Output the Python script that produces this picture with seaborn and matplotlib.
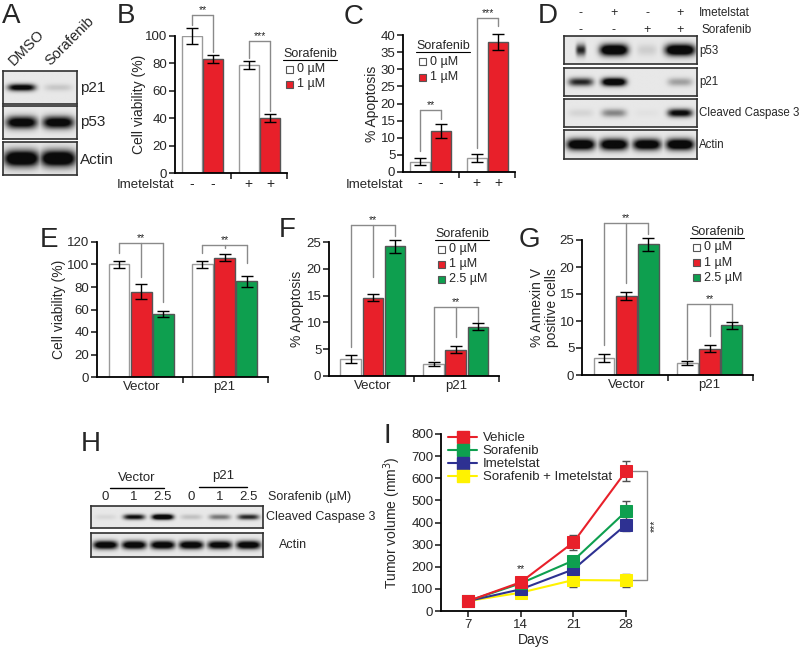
import numpy as np
import pandas as pd
import matplotlib
matplotlib.use('Agg')
import matplotlib.pyplot as plt
from matplotlib.patches import Rectangle
from matplotlib.lines import Line2D
import seaborn as sns

sns.set_style('ticks')
plt.rcParams['font.family'] = ['Liberation Sans', 'DejaVu Sans']
plt.rcParams['axes.linewidth'] = 1.3
plt.rcParams['axes.edgecolor'] = 'black'

# ── data ────────────────────────────────────────────
# A: western blot, DMSO vs Sorafenib (band darkness 0-1)
a_lanes = ['DMSO', 'Sorafenib']
a_p21 = [0.8, 0.1]
a_p53 = [0.85, 0.85]
a_actin = [1.0, 1.0]

# B / C: Imetelstat -/+ x Sorafenib 0 / 1 uM
imet_groups = ['-', '+']
sora_2 = ['0 µM', '1 µM']
b_mean = [100, 83, 79, 40]
b_err = [6, 3, 3, 3]
c_mean = [3, 12, 4, 38]
c_err = [1.0, 2.0, 1.2, 2.3]

# D: blot, lanes Imetelstat -,+,-,+ / Sorafenib -,-,+,+
d_imet = ['-', '+', '-', '+']
d_sora = ['-', '-', '+', '+']
d_p53 = [0.6, 1.0, 0.08, 1.0]
d_p21 = [0.6, 0.95, 0.0, 0.22]
d_cc3 = [0.06, 0.3, 0.02, 0.75]
d_actin = [0.95, 0.95, 0.9, 0.95]

# E / F / G: Vector vs p21 x Sorafenib 0 / 1 / 2.5 uM
cell_groups = ['Vector', 'p21']
sora_3 = ['0 µM', '1 µM', '2.5 µM']
e_mean = [100, 76, 56, 100, 106, 85]
e_err = [3, 7, 3, 3, 3, 5]
f_mean = [3.2, 14.6, 24.2, 2.2, 4.9, 9.2]
f_err = [0.7, 0.7, 1.2, 0.35, 0.7, 0.6]
g_mean = [3.2, 14.6, 24.2, 2.2, 4.9, 9.2]
g_err = [0.7, 0.7, 1.2, 0.35, 0.7, 0.6]

# H: blot, Vector / p21 x Sorafenib dose
h_dose = ['0', '1', '2.5', '0', '1', '2.5']
h_cc3 = [0.05, 0.7, 1.0, 0.12, 0.35, 0.6]
h_actin = [0.9, 0.9, 0.9, 0.9, 0.85, 0.9]

# I: tumour growth
days = [7, 14, 21, 28]
tumour_groups = ['Vehicle', 'Sorafenib', 'Imetelstat', 'Sorafenib + Imetelstat']
vol_vehicle = [45, 130, 310, 632]
vol_sorafenib = [45, 125, 228, 450]
vol_imetelstat = [45, 98, 188, 390]
vol_combo = [45, 83, 140, 138]
err_vehicle = [10, 12, 35, 45]
err_sorafenib = [8, 10, 20, 45]
err_imetelstat = [8, 10, 20, 28]
err_combo = [8, 10, 30, 30]

RED = '#E8202A'
GREEN = '#0E9F4F'
NAVY = '#2E3192'
YELLOW = '#FFF200'
GREY = '#8a8a8a'
BAR2 = ['white', RED]
BAR3 = ['white', RED, GREEN]

W, H = 800, 647
fig = plt.figure(figsize=(8, 6.47), dpi=100)


def px_axes(x0, y0, x1, y1):
    return fig.add_axes([x0 / W, 1 - y1 / H, (x1 - x0) / W, (y1 - y0) / H])


def ptext(x, y, s, **kw):
    kw.setdefault('ha', 'left')
    kw.setdefault('va', 'center')
    kw.setdefault('fontsize', 9)
    return fig.text(x / W, 1 - y / H, s, **kw)


def blot(box, vals, bw=0.8, bh=0.35, bg=0.91):
    ax = px_axes(*box)
    n = len(vals)
    X, Y = np.meshgrid(np.linspace(0, n, n * 40), np.linspace(-1, 1, 40))
    widths = bw if np.iterable(bw) else [bw] * n
    dark = np.zeros_like(X)
    for i, (v, w) in enumerate(zip(vals, widths)):
        prof = np.exp(-np.abs((X - i - 0.5) / (w / 2)) ** 4 - (Y / bh) ** 2)
        dark = np.maximum(dark, np.clip(1.5 * v * prof, 0, 1))
    img = bg * (1 - dark) + 0.04 * dark
    ax.imshow(img, cmap='gray', vmin=0, vmax=1, aspect='auto',
              extent=(0, n, -1, 1), interpolation='bilinear')
    ax.set_xticks([])
    ax.set_yticks([])
    for s in ax.spines.values():
        s.set_visible(True)
        s.set_color('#303030')
        s.set_linewidth(1.2)
    return ax


def bar_panel(box, groups, hues, means, errs, colors, width, ymax, step, xlim):
    ax = px_axes(*box)
    df = pd.DataFrame({'group': np.repeat(groups, len(hues)),
                       'hue': hues * len(groups), 'value': means})
    sns.barplot(data=df, x='group', y='value', hue='hue', hue_order=hues,
                palette=dict(zip(hues, colors)), width=width, gap=0.06,
                errorbar=None, legend=False, saturation=1,
                edgecolor='#555555', linewidth=1, ax=ax)
    bars = sorted(ax.patches, key=lambda p: p.get_x())
    xs = []
    for p in bars:
        if p.get_facecolor()[:3] == (1.0, 1.0, 1.0):
            p.set_edgecolor('#9a9a9a')
        xs.append(p.get_x() + p.get_width() / 2)
    ax.errorbar(xs, means, yerr=errs, fmt='none', ecolor='black',
                elinewidth=1, capsize=4.5, capthick=1, zorder=5, clip_on=False)
    ax.set_xlim(*xlim)
    ax.set_ylim(0, ymax)
    ax.set_yticks(np.arange(0, ymax + 0.01, step))
    ax.set_xticks([0.5, xlim[1]])
    ax.set_xticklabels([])
    ax.set_xlabel('')
    ax.set_ylabel('')
    sns.despine(ax=ax)
    ax.tick_params(length=4, width=1.2, pad=1.5, labelsize=9.5)
    return ax, xs


def bracket(ax, xs, legs, top, stars):
    for x, b in zip(xs, legs):
        ax.plot([x, x], [b, top], color=GREY, lw=1, clip_on=False)
    ax.plot([xs[0], xs[-1]], [top, top], color=GREY, lw=1, clip_on=False)
    ax.text((xs[0] + xs[-1]) / 2, top, stars, ha='center', va='bottom', fontsize=7.5)


def legend_block(x, y, labels, colors, dy):
    t = ptext(x, y, 'Sorafenib', fontsize=9)
    r = fig.canvas.get_renderer()
    wpx = t.get_window_extent(r).width
    fig.add_artist(Line2D([x / W, (x + wpx) / W], [1 - (y + 6) / H] * 2,
                          color='black', lw=0.8, transform=fig.transFigure))
    for i, (lab, c) in enumerate(zip(labels, colors)):
        yy = y + dy * (i + 1)
        fig.add_artist(Rectangle(((x + 3) / W, 1 - (yy + 3.5) / H), 7 / W, 7 / H,
                                 transform=fig.transFigure, facecolor=c,
                                 edgecolor='#555555', lw=0.8))
        ptext(x + 14, yy, lab, fontsize=9)


def letter(x, y, s):
    ptext(x, y, s, fontsize=20, va='top')


# ── A ───────────────────────────────────────────────
letter(2, 3, 'A')
blot((3, 71, 77, 104), a_p21, bw=0.75, bh=0.22)
blot((3, 106, 77, 139), a_p53, bw=0.85, bh=0.38)
blot((3, 142, 77, 175), a_actin, bw=0.95, bh=0.5)
for lab, yy in zip(['p21', 'p53', 'Actin'], [88, 122, 160]):
    ptext(80, yy, lab, fontsize=11)
for lab, xx in zip(a_lanes, [16, 52]):
    fig.text(xx / W, 1 - 68 / H, lab, rotation=45, rotation_mode='anchor',
             ha='left', va='bottom', fontsize=10.5)

# ── B ───────────────────────────────────────────────
letter(117, 3, 'B')
ax, xs = bar_panel((175, 36, 287, 173), imet_groups, sora_2, b_mean, b_err,
                   BAR2, 0.75, 100, 20, (-0.48, 1.48))
ax.set_xticks(xs, minor=True)
ax.set_xticklabels(['-', '-', '+', '+'], minor=True)
ax.tick_params(axis='x', which='minor', length=0, pad=3, labelsize=10)
ax.set_ylabel('Cell viability (%)', fontsize=10)
ax.yaxis.set_label_coords(-0.26, 0.5)
bracket(ax, xs[0:2], [108, 88], 115, '**')
bracket(ax, xs[2:4], [84, 45], 96, '***')
ptext(174, 185, 'Imetelstat', ha='right', fontsize=9.5)
legend_block(283, 54, sora_2, BAR2, 15)

# ── C ───────────────────────────────────────────────
letter(344, 4, 'C')
ax, xs = bar_panel((403, 35, 515, 172), imet_groups, sora_2, c_mean, c_err,
                   BAR2, 0.75, 40, 5, (-0.48, 1.48))
ax.set_xticks(xs, minor=True)
ax.set_xticklabels(['-', '-', '+', '+'], minor=True)
ax.tick_params(axis='x', which='minor', length=0, pad=3, labelsize=10)
ax.set_ylabel('% Apoptosis', fontsize=10)
ax.yaxis.set_label_coords(-0.215, 0.5)
bracket(ax, xs[0:2], [6, 15.5], 18, '**')
bracket(ax, xs[2:4], [7, 42.5], 45, '***')
ptext(403, 185, 'Imetelstat', ha='right', fontsize=9.5)
legend_block(416, 46, sora_2, BAR2, 15.5)

# ── D ───────────────────────────────────────────────
letter(538, 3, 'D')
blot((564, 36, 697, 64), d_p53, bw=[0.3, 0.85, 0.6, 0.9], bh=0.42)
blot((564, 68, 697, 96), d_p21, bw=0.75, bh=0.3)
blot((564, 99, 697, 127), d_cc3, bw=0.75, bh=0.3)
blot((564, 130, 697, 159), d_actin, bw=0.85, bh=0.4)
for i, (s1, s2) in enumerate(zip(d_imet, d_sora)):
    xx = 564 + (697 - 564) * (i + 0.5) / 4
    ptext(xx, 13, s1, ha='center', fontsize=9)
    ptext(xx, 30, s2, ha='center', fontsize=9)
ptext(699, 13, 'Imetelstat', fontsize=8.5)
ptext(702, 30, 'Sorafenib', fontsize=8.5)
for lab, yy in zip(['p53', 'p21', 'Cleaved Caspase 3', 'Actin'], [51, 82, 113, 145]):
    ptext(699, yy, lab, fontsize=8.3)

# ── E ───────────────────────────────────────────────
letter(40, 227, 'E')
ax, xs = bar_panel((97, 242, 268, 377), cell_groups, sora_3, e_mean, e_err,
                   BAR3, 0.8, 120, 20, (-0.53, 1.52))
ax.set_xticks([0, 1], minor=True)
ax.set_xticklabels(cell_groups, minor=True)
ax.tick_params(axis='x', which='minor', length=0, pad=3, labelsize=9.5)
ax.set_ylabel('Cell viability (%)', fontsize=10)
ax.yaxis.set_label_coords(-0.18, 0.5)
bracket(ax, xs[0:3], [110, 89, 67], 119, '**')
bracket(ax, xs[3:6], [110, 115, 101], 117, '**')

# ── F ───────────────────────────────────────────────
letter(279, 217, 'F')
ax, xs = bar_panel((329, 242, 499, 376), cell_groups, sora_3, f_mean, f_err,
                   BAR3, 0.8, 25, 5, (-0.53, 1.52))
ax.set_xticks([0, 1], minor=True)
ax.set_xticklabels(cell_groups, minor=True)
ax.tick_params(axis='x', which='minor', length=0, pad=3, labelsize=9.5)
ax.set_ylabel('% Apoptosis', fontsize=10)
ax.yaxis.set_label_coords(-0.15, 0.5)
bracket(ax, xs[0:3], [5.4, 18.5, 26.2], 28.2, '**')
bracket(ax, xs[3:6], [3.0, 7.3, 10.0], 12.9, '**')
legend_block(435, 234, sora_3, BAR3, 15)

# ── G ───────────────────────────────────────────────
letter(519, 227, 'G')
ax, xs = bar_panel((582, 240, 753, 375), cell_groups, sora_3, g_mean, g_err,
                   BAR3, 0.8, 25, 5, (-0.53, 1.52))
ax.set_xticks([0, 1], minor=True)
ax.set_xticklabels(cell_groups, minor=True)
ax.tick_params(axis='x', which='minor', length=0, pad=3, labelsize=9.5)
ax.set_ylabel('% Annexin V\npositive cells', fontsize=10, linespacing=1.1)
ax.yaxis.set_label_coords(-0.135, 0.5)
bracket(ax, xs[0:3], [5.6, 17.0, 26.2], 28.2, '**')
bracket(ax, xs[3:6], [3.0, 7.3, 10.0], 13.1, '**')
legend_block(690, 232, sora_3, BAR3, 15.3)

# ── H ───────────────────────────────────────────────
letter(81, 431, 'H')
blot((91, 506, 263, 528), h_cc3, bw=0.75, bh=0.25)
blot((91, 533, 263, 557), h_actin, bw=0.85, bh=0.35)
lane_w = (263 - 91) / 6
for i, d in enumerate(h_dose):
    ptext(91 + lane_w * (i + 0.5), 497, d, ha='center', fontsize=9.5)
ptext(137, 478, 'Vector', ha='center', fontsize=9.5)
ptext(223, 476, 'p21', ha='center', fontsize=9.5)
for x0, x1, yy in [(110, 164, 488), (199, 247, 487)]:
    fig.add_artist(Line2D([x0 / W, x1 / W], [1 - yy / H] * 2, color='black',
                          lw=1, transform=fig.transFigure))
ptext(268, 497, 'Sorafenib (µM)')
ptext(266, 517, 'Cleaved Caspase 3')
ptext(279, 545, 'Actin')

# ── I ───────────────────────────────────────────────
letter(383, 423, 'I')
ax = px_axes(441, 434, 626, 611)
colors_i = [RED, GREEN, NAVY, YELLOW]
vols = [vol_vehicle, vol_sorafenib, vol_imetelstat, vol_combo]
errs_i = [err_vehicle, err_sorafenib, err_imetelstat, err_combo]
df_i = pd.DataFrame({'day': days * 4,
                     'volume': sum(vols, []),
                     'group': np.repeat(tumour_groups, len(days))})
sns.lineplot(data=df_i, x='day', y='volume', hue='group', hue_order=tumour_groups,
             palette=dict(zip(tumour_groups, colors_i)), marker='s', markersize=9,
             linewidth=1.5, errorbar=None, legend=False, ax=ax)
for k, (line, c) in enumerate(zip(ax.lines[:4], colors_i)):
    line.set_markeredgecolor(c)
    line.set_clip_on(False)
    line.set_zorder(10 - k)
for k, (v, e) in enumerate(zip(vols, errs_i)):
    ax.errorbar(days, v, yerr=e, fmt='none', ecolor='#505050', elinewidth=1,
                capsize=3, capthick=1, zorder=6 - k, clip_on=False)
ax.set_xlim(3.4, 28)
ax.set_ylim(0, 800)
ax.set_xticks(days)
ax.set_yticks(np.arange(0, 801, 100))
sns.despine(ax=ax)
ax.tick_params(length=4, width=1.2, pad=1.5, labelsize=9.5)
ax.set_xlabel('Days', fontsize=10, labelpad=2)
ax.set_ylabel('Tumor volume (mm$^3$)', fontsize=10)
ax.yaxis.set_label_coords(-0.205, 0.5)
handles = [Line2D([0], [0], color=c, marker='s', markersize=9, lw=1.5) for c in colors_i]
ax.legend(handles, tumour_groups, loc='upper left', bbox_to_anchor=(0.04, 1.01),
          frameon=False, fontsize=9.5, handlelength=2.2, handletextpad=0.4,
          labelspacing=0.05, borderaxespad=0, borderpad=0)
# significance bracket at day 28
ax.plot([28.9, 30.8, 30.8, 28.9], [632, 632, 138, 138], color=GREY, lw=1, clip_on=False)
ax.text(31.9, 385, '***', rotation=90, ha='center', va='center', fontsize=7.5)
ax.text(14, 165, '**', ha='center', va='bottom', fontsize=7.5)

fig.savefig('out.png', dpi=100)
